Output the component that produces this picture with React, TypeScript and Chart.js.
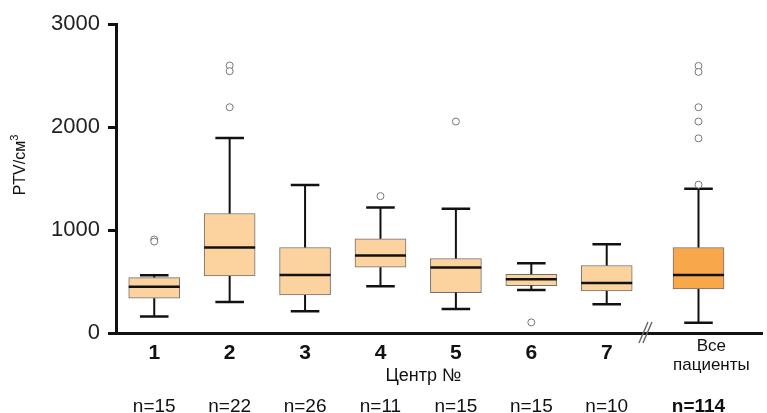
import React, { useEffect, useRef } from "react";
import { Chart, registerables } from "chart.js";

Chart.register(...registerables);

// ---- data ----
const categories = ["1", "2", "3", "4", "5", "6", "7", "Все пациенты"];
const positions = [1, 2, 3, 4, 5, 6, 7, 8.217];
const labelPositions = [1, 2, 3, 4, 5, 6, 7, 8.388];
const nCounts = [15, 22, 26, 11, 15, 15, 10, 114];
const whiskerLow = [161, 302, 210, 453, 233, 418, 278, 100];
const q1 = [337, 554, 370, 638, 392, 460, 408, 428];
const medians = [450, 830, 564, 752, 635, 521, 486, 564];
const q3 = [538, 1160, 830, 914, 723, 570, 655, 830];
const whiskerHigh = [560, 1893, 1436, 1219, 1206, 677, 862, 1401];
const outliers: number[][] = [
  [908, 888],
  [2597, 2542, 2192],
  [],
  [1329],
  [2053],
  [103],
  [],
  [2593, 2535, 2192, 2053, 1890, 1440],
];
const yTicks = [0, 1000, 2000, 3000];
const xTitle = "Центр №";
const yTitleMain = "PTV/см";
const yTitleSup = "3";
const breakAt = 7.507;
const xTitleAt = 4.57;

const FONT = "'Liberation Sans', Arial, sans-serif";
const LIGHT = "#FCD39F";
const DARK = "#F8A84B";

const extrasPlugin = {
  id: "boxExtras",
  afterDatasetDraw(chart: any, args: any) {
    if (args.index !== 1) return;
    const { ctx } = chart;
    const x = chart.scales.x;
    const y = chart.scales.y;
    const meta = chart.getDatasetMeta(1);
    ctx.save();
    ctx.strokeStyle = "#111";
    ctx.lineCap = "butt";
    positions.forEach((p, i) => {
      const cx = x.getPixelForValue(p);
      const w = meta.data[i] ? meta.data[i].width : 51;
      // whiskers
      ctx.lineWidth = 2;
      ctx.beginPath();
      ctx.moveTo(cx, y.getPixelForValue(q3[i]));
      ctx.lineTo(cx, y.getPixelForValue(whiskerHigh[i]));
      ctx.moveTo(cx, y.getPixelForValue(q1[i]));
      ctx.lineTo(cx, y.getPixelForValue(whiskerLow[i]));
      ctx.stroke();
      // caps
      ctx.lineWidth = 2.5;
      ctx.beginPath();
      const cw = w * 0.56;
      ctx.moveTo(cx - cw / 2, y.getPixelForValue(whiskerHigh[i]));
      ctx.lineTo(cx + cw / 2, y.getPixelForValue(whiskerHigh[i]));
      ctx.moveTo(cx - cw / 2, y.getPixelForValue(whiskerLow[i]));
      ctx.lineTo(cx + cw / 2, y.getPixelForValue(whiskerLow[i]));
      ctx.stroke();
      // median
      ctx.lineWidth = 2.5;
      ctx.beginPath();
      ctx.moveTo(cx - w / 2, y.getPixelForValue(medians[i]));
      ctx.lineTo(cx + w / 2, y.getPixelForValue(medians[i]));
      ctx.stroke();
    });
    ctx.restore();
  },
  afterDraw(chart: any) {
    const { ctx } = chart;
    const x = chart.scales.x;
    const y = chart.scales.y;
    const y0 = y.getPixelForValue(0);
    ctx.save();
    // axis break
    const bx = x.getPixelForValue(breakAt);
    ctx.strokeStyle = "#666";
    ctx.lineWidth = 1.4;
    ctx.beginPath();
    ctx.moveTo(bx - 6, y0 + 10);
    ctx.lineTo(bx + 3, y0 - 11);
    ctx.moveTo(bx - 2, y0 + 10);
    ctx.lineTo(bx + 7, y0 - 11);
    ctx.stroke();
    // x title
    ctx.fillStyle = "#111";
    ctx.textAlign = "center";
    ctx.textBaseline = "alphabetic";
    ctx.font = `18px ${FONT}`;
    ctx.fillText(xTitle, x.getPixelForValue(xTitleAt), 381);
    // n labels
    positions.forEach((p, i) => {
      const last = i === positions.length - 1;
      ctx.font = `${last ? "bold " : ""}19px ${FONT}`;
      ctx.fillText(`n=${nCounts[i]}`, x.getPixelForValue(p), 412);
    });
    // y title with superscript
    ctx.translate(25, 165);
    ctx.rotate(-Math.PI / 2);
    ctx.textAlign = "left";
    ctx.font = `16px ${FONT}`;
    const wMain = ctx.measureText(yTitleMain).width;
    ctx.font = `11px ${FONT}`;
    const wSup = ctx.measureText(yTitleSup).width;
    const start = -(wMain + wSup) / 2;
    ctx.font = `16px ${FONT}`;
    ctx.fillText(yTitleMain, start, 0);
    ctx.font = `11px ${FONT}`;
    ctx.fillText(yTitleSup, start + wMain, -7);
    ctx.restore();
  },
};

export default function App() {
  const ref = useRef<HTMLCanvasElement>(null);
  useEffect(() => {
    if (!ref.current) return;
    Chart.defaults.font.family = FONT;
    const boxData = positions.map((p, i) => ({ x: p, y: [q1[i], q3[i]] }));
    const outlierData: { x: number; y: number }[] = [];
    outliers.forEach((arr, i) => arr.forEach((v) => outlierData.push({ x: positions[i], y: v })));
    const chart = new Chart(ref.current, {
      type: "bar",
      data: {
        datasets: [
          {
            type: "scatter",
            data: outlierData,
            order: 1,
            pointRadius: 3.5,
            pointBackgroundColor: "#fff",
            pointBorderColor: "#777",
            pointBorderWidth: 1,
          } as any,
          {
            type: "bar",
            data: boxData as any,
            order: 2,
            barThickness: 51,
            backgroundColor: positions.map((_, i) => (i === positions.length - 1 ? DARK : LIGHT)),
            borderColor: "#6f6f6f",
            borderWidth: 1,
            borderSkipped: false,
          } as any,
        ],
      },
      options: {
        animation: false,
        responsive: false,
        layout: { padding: { top: 24, right: 0, left: 0, bottom: 0 } },
        plugins: { legend: { display: false }, tooltip: { enabled: false } },
        scales: {
          x: {
            type: "linear",
            offset: false,
            min: 0.493,
            max: 9.059,
            grid: { display: false, drawTicks: false },
            border: { display: true, color: "#111", width: 3 },
            afterBuildTicks: (scale: any) => {
              scale.ticks = labelPositions.map((v) => ({ value: v }));
            },
            afterFit: (scale: any) => {
              scale.height = 80;
            },
            ticks: {
              autoSkip: false,
              maxRotation: 0,
              padding: 4,
              color: "#111",
              callback: (_v: any, i: number) =>
                i === categories.length - 1 ? categories[i].split(" ") : categories[i],
              font: (c: any) =>
                c.index === categories.length - 1
                  ? { size: 17, lineHeight: 1.1, family: FONT }
                  : { size: 21, weight: "bold", lineHeight: 1.5, family: FONT },
            },
          },
          y: {
            min: 0,
            max: 3000,
            afterBuildTicks: (scale: any) => {
              scale.ticks = yTicks.map((v) => ({ value: v }));
            },
            afterFit: (scale: any) => {
              scale.width = 116;
            },
            grid: { drawOnChartArea: false, drawTicks: true, tickLength: 8, lineWidth: 3, color: "#111" },
            border: { display: true, color: "#111", width: 3 },
            ticks: {
              padding: 8,
              color: "#222",
              font: { size: 22, family: FONT },
              callback: (v: any) => String(v),
            },
          },
        },
      } as any,
      plugins: [extrasPlugin],
    });
    return () => chart.destroy();
  }, []);
  return (
    <div style={{ position: "fixed", left: 0, top: 0, width: 767, height: 413, background: "#fff" }}>
      <canvas ref={ref} width={767} height={413} style={{ display: "block" }} />
    </div>
  );
}
